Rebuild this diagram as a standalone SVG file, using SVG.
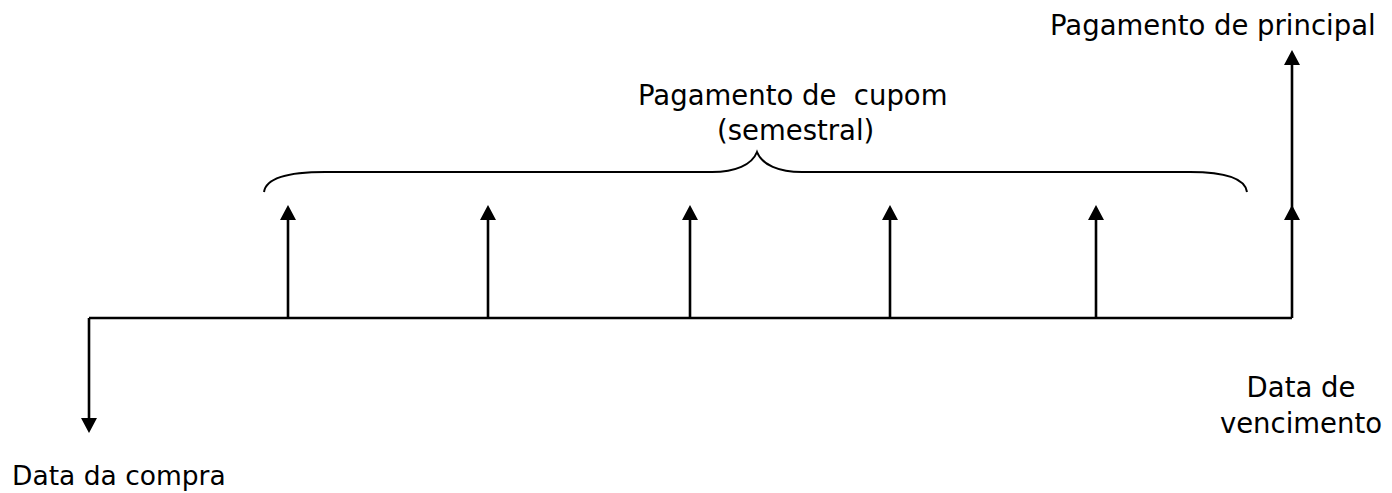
<svg xmlns="http://www.w3.org/2000/svg" width="1392" height="493" viewBox="0 0 1392 493">
<style>
.t{font-family:"DejaVu Sans","Liberation Sans",sans-serif;font-size:27.5px;fill:#000;white-space:pre}
.ln{stroke:#000;stroke-width:2.6;fill:none}
.br{stroke:#000;stroke-width:2;fill:none}
</style>
<defs>
<marker id="ah" markerUnits="userSpaceOnUse" markerWidth="15" markerHeight="16" refX="5" refY="8" orient="auto" viewBox="0 0 15 16">
<path d="M0,0 L15,8 L0,16 z" fill="#000"/>
</marker>
</defs>
<g id="connectors">
<path id="timeline" class="ln" d="M89,318 H1292"/>
<path id="compra-arrow" class="ln" d="M89,318 V423" marker-end="url(#ah)"/>
<path id="c1" class="ln" d="M288,318 V215" marker-end="url(#ah)"/>
<path id="c2" class="ln" d="M488,318 V215" marker-end="url(#ah)"/>
<path id="c3" class="ln" d="M690,318 V215" marker-end="url(#ah)"/>
<path id="c4" class="ln" d="M890,318 V215" marker-end="url(#ah)"/>
<path id="c5" class="ln" d="M1096,318 V215" marker-end="url(#ah)"/>
<path id="principal-arrow" class="ln" d="M1292,318 L1292,215 L1292,60" marker-mid="url(#ah)" marker-end="url(#ah)"/>
</g>
<g id="brace">
<path class="br" d="M264,192 C266,178 290,172 325,172 L712,172 C735,172 752,165 757,152 C762,165 779,172 802,172 L1190,172 C1225,172 1245,178 1247,192"/>
</g>
<g id="label-principal"><text class="t" x="1050" y="35">Pagamento de principal</text></g>
<g id="label-cupom">
<text class="t" x="638" y="105">Pagamento de  cupom</text>
<text class="t" x="717" y="140">(semestral)</text>
</g>
<g id="label-vencimento">
<text class="t" x="1301" y="397" text-anchor="middle">Data de</text>
<text class="t" x="1301" y="433" text-anchor="middle">vencimento</text>
</g>
<g id="label-compra"><text class="t" x="12" y="485" style="font-size:26.5px">Data da compra</text></g>
</svg>
